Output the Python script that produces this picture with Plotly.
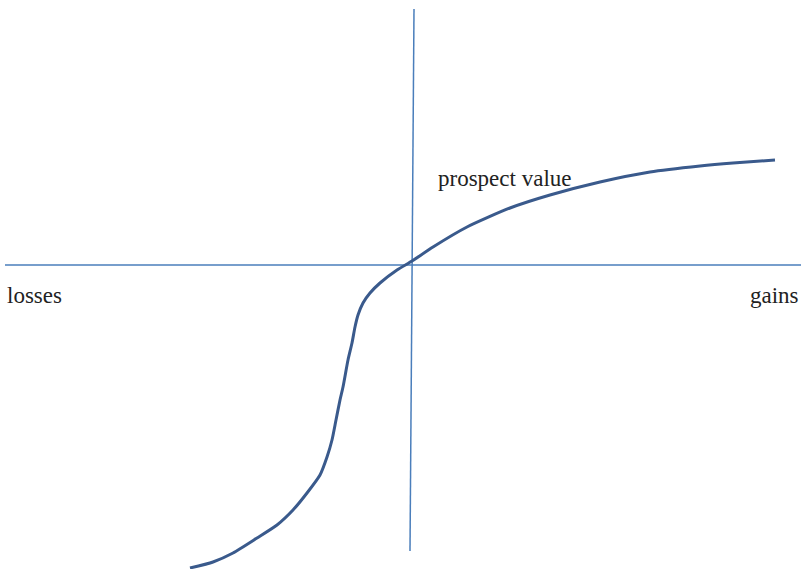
import plotly.graph_objects as go

# Prospect value curve (x: gains/losses, y: value), origin at axes crossing
curve_x = [-222, -199, -179, -155, -135, -119, -105, -92, -85, -80, -76, -72, -69, -64, -60, -57, -54, -49, -42, -32, -15, 0, 21, 55, 98, 138, 188, 238, 288, 321, 363]
curve_y = [-303, -297, -288, -273, -260, -245, -228, -210, -192, -175, -155, -135, -122, -95, -78, -62, -50, -38, -28, -18, -5, 4, 18, 38, 57, 70, 83, 93, 99, 102, 105]

axis_h_x = [-407, 389]
axis_h_y = [0, 0]
axis_v_x = [2, -2]
axis_v_y = [256, -286]

fig = go.Figure()
fig.add_trace(go.Scatter(x=axis_h_x, y=axis_h_y, mode="lines",
                         line=dict(color="#4a7ebb", width=1.5), hoverinfo="skip"))
fig.add_trace(go.Scatter(x=axis_v_x, y=axis_v_y, mode="lines",
                         line=dict(color="#4a7ebb", width=1.5), hoverinfo="skip"))
fig.add_trace(go.Scatter(x=curve_x, y=curve_y, mode="lines",
                         line=dict(color="#3a5a8c", width=3, shape="spline", smoothing=0.6)))

font = dict(family="Liberation Serif", size=23, color="#222222")
fig.add_annotation(x=-407, y=-30, text="losses", showarrow=False, xanchor="left", yanchor="middle", font=font)
fig.add_annotation(x=389, y=-30, text="gains", showarrow=False, xanchor="right", yanchor="middle", font=font)
fig.add_annotation(x=24, y=87, text="prospect value", showarrow=False, xanchor="left", yanchor="middle", font=font)

fig.update_layout(
    width=801, height=569,
    margin=dict(l=0, r=0, t=0, b=0),
    paper_bgcolor="white", plot_bgcolor="white",
    showlegend=False,
    xaxis=dict(range=[-412, 389], visible=False, fixedrange=True),
    yaxis=dict(range=[-304, 265], visible=False, fixedrange=True),
)
fig.write_html("out.html", config={"displayModeBar": False},
               post_script="document.body.style.margin='0';")
